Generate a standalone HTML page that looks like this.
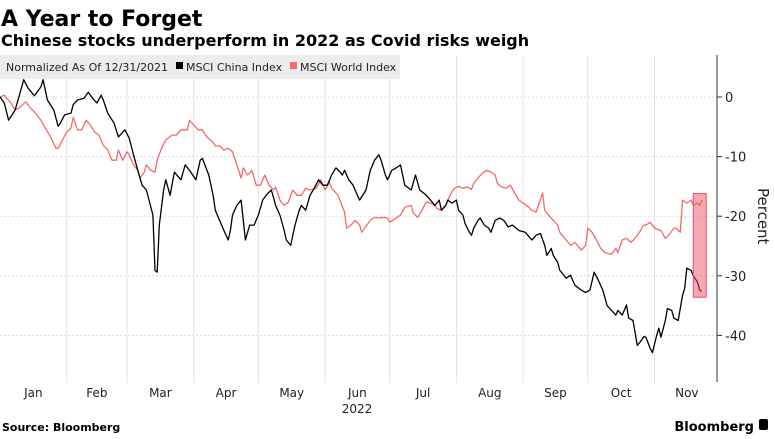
<!DOCTYPE html>
<html><head><meta charset="utf-8"><style>
body{margin:0;background:#fff;width:775px;height:435px;overflow:hidden;font-family:"DejaVu Sans","Liberation Sans",sans-serif;}
</style></head><body>
<svg width="775" height="435" xmlns="http://www.w3.org/2000/svg">
<text x="1" y="26" font-size="22" font-weight="bold" fill="#000">A Year to Forget</text>
<text x="1" y="46" font-size="16" font-weight="bold" fill="#000">Chinese stocks underperform in 2022 as Covid risks weigh</text>
<g id="grid"></g>
<rect x="0" y="55" width="400" height="24" fill="#ececec"/>
<text x="6" y="71" font-size="11" fill="#222">Normalized As Of 12/31/2021</text>
<rect x="176" y="62" width="7" height="7" fill="#000"/>
<text x="186" y="71" font-size="11" fill="#222">MSCI China Index</text>
<rect x="290" y="62" width="7" height="7" fill="#f26a6a"/>
<text x="300" y="71" font-size="11" fill="#222">MSCI World Index</text>
<g id="marks"></g>
<line x1="717" y1="55" x2="717" y2="382" stroke="#333" stroke-width="1"/>
<g id="axis"></g>
<text x="0" y="0" font-size="15" fill="#222" transform="translate(758,188) rotate(90)">Percent</text>
<text x="357" y="413" font-size="12" fill="#222" text-anchor="middle">2022</text>
<text x="2" y="431" font-size="11" font-weight="bold" fill="#000">Source: Bloomberg</text>
<text x="754" y="431" font-size="13" font-weight="bold" fill="#000" text-anchor="end">Bloomberg</text>
<rect x="759" y="419" width="9" height="11" rx="2" fill="#000"/>
</svg>
<script>
const chinaDays=[0,2,4,7,9,11,13,16,19,20,22,25,27,28,30,33,34,36,39,41,43,45,47,48,50,53,55,58,60,62,64,66,68,71,72,73,74,76,77,79,81,84,86,88,91,93,94,97,99,100,102,104,106,107,108,110,112,114,116,118,120,122,124,126,127,128,130,132,133,135,137,139,140,142,144,146,148,150,152,154,156,158,159,160,162,164,166,167,170,172,174,176,177,179,180,182,184,186,188,191,193,195,198,200,202,204,205,207,208,210,212,213,215,216,218,219,220,222,223,225,227,228,230,232,234,236,238,241,244,247,249,251,253,254,256,257,259,260,263,265,267,270,272,274,276,278,280,282,284,286,287,289,291,292,294,296,298,299,300,302,303,305,306,307,309,310,312,313,315,317,318,319,321,322,324,325,326];
const chinaValues=[0,-1,-3.9,-2.2,0.3,2.9,1.5,0.2,1.7,2.9,-0.5,-2.2,-4.9,-4.4,-3,-2.7,-1.3,-0.5,-0.2,0.8,-0.2,-1,0.3,-0.5,-2.7,-4.4,-6.7,-5.5,-6.9,-9.7,-12.3,-14.8,-15.6,-19.8,-29.1,-29.4,-21.5,-15.6,-13.9,-16.5,-12.6,-13.9,-11.4,-12.3,-13.9,-10.6,-10.3,-13.1,-16.5,-19,-20.7,-22.4,-24,-22.4,-19.8,-18.2,-17.3,-24,-21.5,-21.5,-19.8,-17.3,-16.3,-15.6,-16.8,-18.2,-19.8,-22.4,-24,-24.9,-21.5,-19,-18.2,-19,-16.5,-15.3,-13.9,-14.8,-14.8,-13.1,-11.9,-12.6,-13.1,-12.3,-13.9,-14.8,-16.5,-17.3,-15.6,-12.3,-10.6,-9.7,-10.6,-13.1,-13.9,-12.3,-11.9,-11.4,-14.8,-15.6,-13.1,-15.6,-16.5,-17.3,-18.2,-17.3,-19,-18.2,-17.3,-17.8,-17.3,-19,-19.8,-21.2,-22.7,-23.2,-22,-20.7,-20.3,-21.5,-22,-22.7,-20.7,-20.3,-20.7,-21.8,-21.5,-22.4,-22.7,-24,-23.2,-22.9,-24.9,-26.6,-25.4,-26.6,-27.7,-29.1,-30.4,-29.9,-31.6,-32.4,-32.8,-32.4,-29.4,-30.8,-32.4,-35,-35.8,-36.6,-35.8,-36.6,-34.9,-37.1,-37.5,-41.7,-40.8,-40.2,-40.3,-42.2,-42.9,-40,-38.8,-40.3,-37.5,-35.5,-35.8,-37.1,-37.5,-33.3,-32.1,-28.7,-29.1,-30,-31.1,-32.4,-32.6];
const worldDays=[0,2,5,7,9,12,14,16,19,21,23,26,27,29,31,33,34,36,38,40,42,44,46,48,50,52,54,55,57,59,60,62,64,65,67,68,70,72,73,75,77,80,82,84,87,88,90,92,94,96,99,100,102,104,106,108,110,112,113,115,117,119,121,123,125,127,128,130,132,134,136,138,140,142,144,147,149,151,153,154,157,160,161,163,165,167,168,170,172,174,176,178,180,181,184,186,188,191,192,194,196,198,200,202,203,205,207,209,211,213,215,217,219,220,222,224,226,228,230,231,233,235,237,239,241,243,245,247,249,250,252,253,254,257,259,260,263,265,267,270,272,273,275,277,279,281,284,286,287,289,291,293,295,297,299,300,302,304,307,309,311,313,314,316,317,319,321,322,324,325,326];
const worldValues=[0,0.3,-1,-2.2,-1.8,-0.8,-1.8,-2.5,-3.9,-5.2,-6.4,-8.6,-8.6,-7.2,-5.9,-5.2,-3.4,-5.5,-5.5,-3.9,-4.7,-5.9,-6.4,-8.1,-8.9,-10.6,-10.6,-8.9,-10.6,-9.2,-9.7,-11.4,-12.3,-13.6,-12.6,-11.4,-12.3,-12.6,-10.6,-8.6,-7.2,-6.4,-6.4,-5.5,-5.5,-3.9,-4.7,-5.5,-5.5,-6.7,-7.6,-8.2,-8.2,-8.9,-8.6,-9.2,-11.4,-13.6,-11.9,-13.1,-12.3,-14.8,-14.8,-13.1,-14.8,-15.6,-15.1,-17.3,-18.2,-17.6,-15.6,-16.5,-16.5,-15.3,-15.6,-15.3,-13.9,-15.6,-14.3,-15.3,-16.5,-19.3,-22,-21.5,-20.7,-21.5,-22.7,-21.7,-20.7,-20.2,-20.3,-20.2,-20.3,-21,-20.3,-19.8,-18.5,-18.2,-19.5,-20.2,-19,-17.6,-17.8,-18.2,-18.7,-19,-18.2,-16.5,-15.3,-15,-15.3,-15.1,-15.5,-14.5,-13.6,-12.8,-12.3,-12.6,-13.1,-14.5,-15.1,-15.3,-14.8,-16.1,-17.3,-17.8,-18.3,-19,-19.3,-18.2,-16.1,-19,-19.5,-20.7,-21.5,-22.7,-24,-24.9,-24.4,-25.7,-24.9,-22,-22.7,-24,-25.4,-26.1,-26.4,-25.4,-26.1,-24,-23.7,-24.4,-23.7,-22.7,-21.5,-21.5,-21,-22,-22.4,-23.7,-23,-22,-22,-22.7,-17.3,-17.8,-17.3,-18.2,-17.8,-18.2,-17.3];
const monthLabels=["Jan","Feb","Mar","Apr","May","Jun","Jul","Aug","Sep","Oct","Nov"];
const monthStarts=[0,31,59,90,120,151,181,212,243,273,304];
const yTicks=[0,-10,-20,-30,-40];
const highlightRange=[-16.2,-33.6];
const highlightDays=[322,328];

const NS="http://www.w3.org/2000/svg";
const xS=d=>d*2.153;
const yS=v=>97-v*5.96;
function mk(tag,attrs,parent){const e=document.createElementNS(NS,tag);for(const k in attrs)e.setAttribute(k,attrs[k]);parent.appendChild(e);return e;}
const grid=document.getElementById('grid'),marks=document.getElementById('marks'),axis=document.getElementById('axis');
yTicks.forEach(t=>{
  const g=mk('line',{x1:0,x2:717,y1:yS(t),y2:yS(t),stroke:'#ddd','stroke-dasharray':'2,2'},grid);
  
  
  const tk=mk('line',{x1:717,x2:722,y1:yS(t),y2:yS(t),stroke:'#333'},axis);
  
  
  const lb=mk('text',{x:725,y:yS(t)+5,'font-size':13,fill:'#222'},axis);
  lb.textContent=t===0?'0':String(t);
  
  
});
monthStarts.forEach((d,i)=>{
  if(i>0){const g=mk('line',{x1:xS(d),x2:xS(d),y1:55,y2:383,stroke:'#e2e2e2'},grid);
  
  }
  const end=i<monthStarts.length-1?monthStarts[i+1]:334;
  const lb=mk('text',{x:xS((d+end)/2),y:397,'font-size':12,fill:'#222','text-anchor':'middle'},axis);
  lb.textContent=monthLabels[i];
  
  
});
function line(days,vals,color,name){
  const p=mk('polyline',{points:days.map((d,i)=>xS(d).toFixed(1)+','+yS(vals[i]).toFixed(1)).join(' '),fill:'none',stroke:color,'stroke-width':1.3,'stroke-linejoin':'round'},marks);
  
  
}
line(worldDays,worldValues,'#f26a6a','msci-world-line');
line(chinaDays,chinaValues,'#000','msci-china-line');
const hr=mk('rect',{x:xS(highlightDays[0]),y:yS(highlightRange[0]),width:xS(highlightDays[1])-xS(highlightDays[0]),height:yS(highlightRange[1])-yS(highlightRange[0]),fill:'rgba(240,80,100,0.5)',stroke:'#e8506a','stroke-width':1},marks);


</script>
</body></html>
